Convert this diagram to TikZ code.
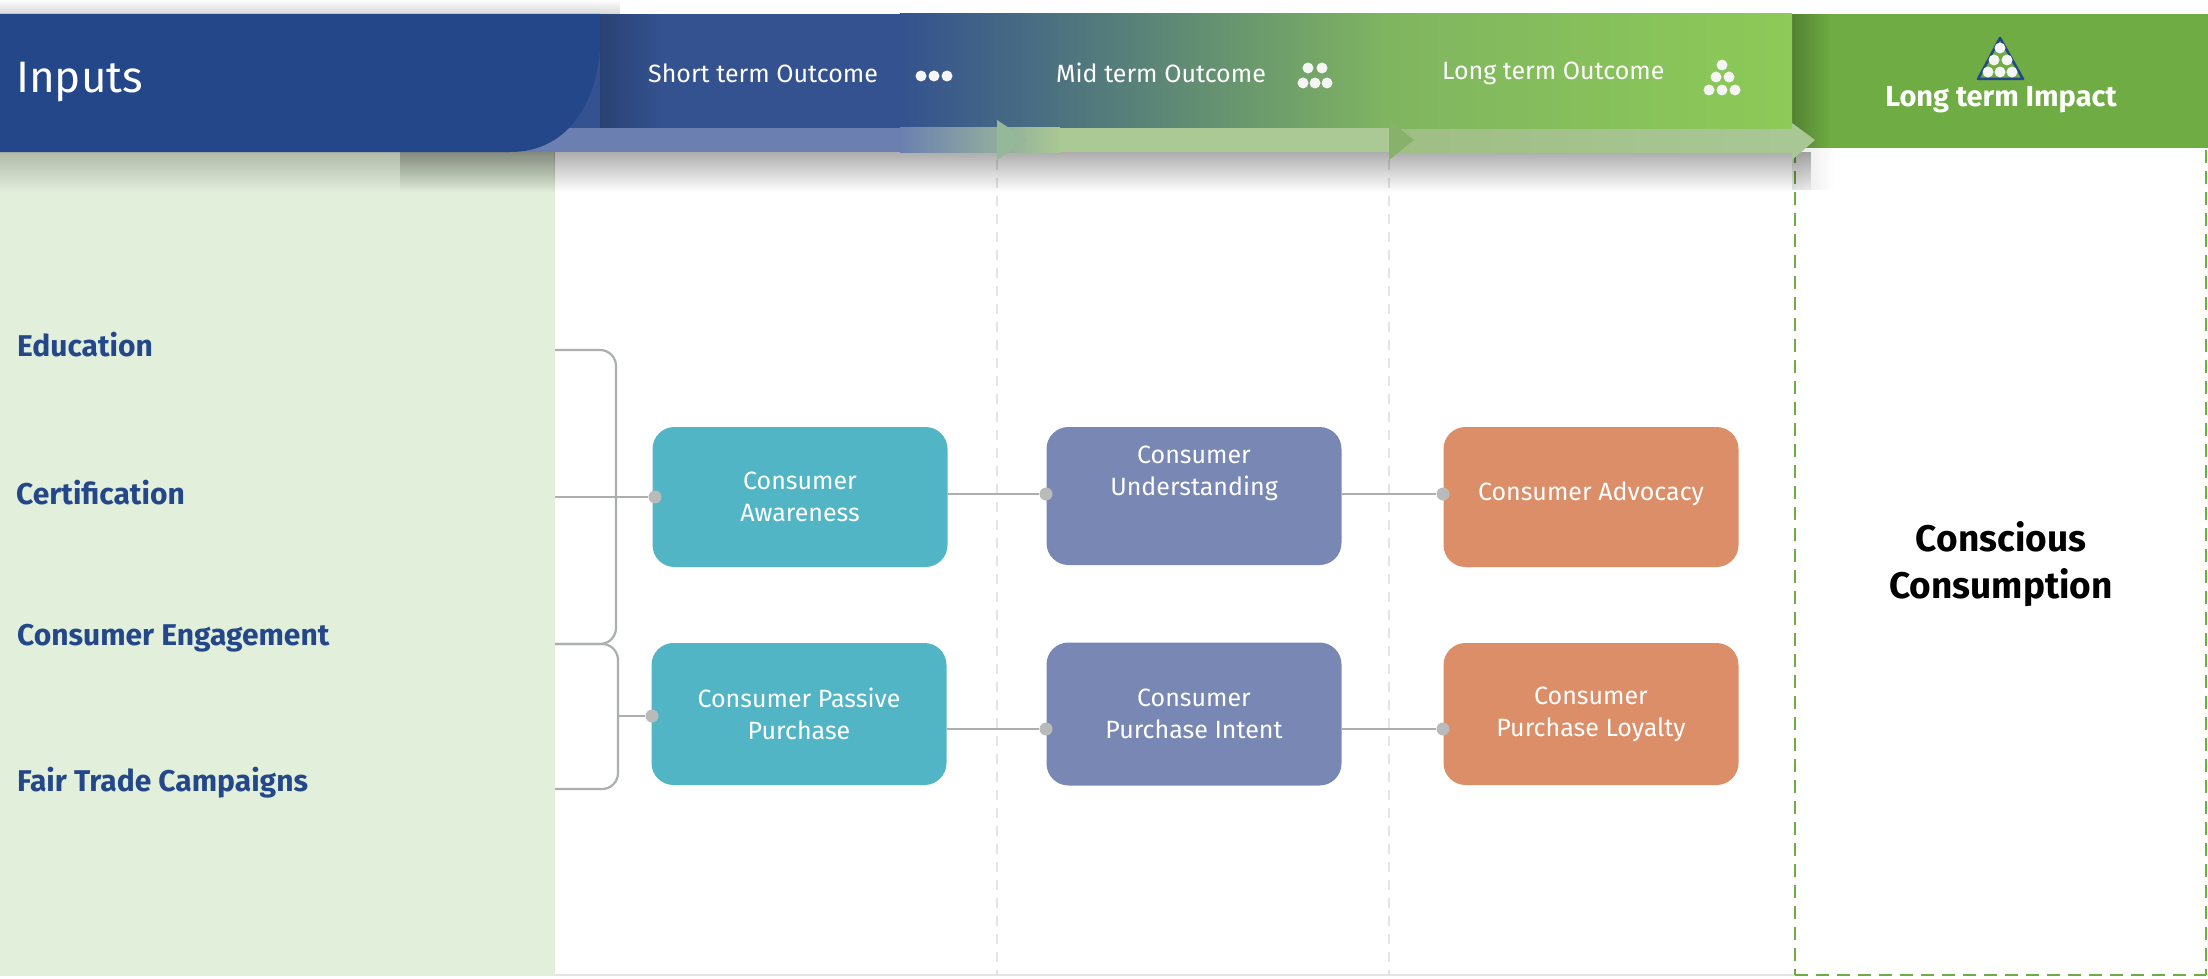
\documentclass[tikz,border=0pt]{standalone}
\usepackage{fontspec}
\setmainfont{Fira Sans}
\usetikzlibrary{fadings}
\definecolor{navy}{HTML}{24478A}
\definecolor{tealbox}{HTML}{51B5C6}
\definecolor{purplebox}{HTML}{7887B3}
\definecolor{orangebox}{HTML}{DC8E68}
\definecolor{inputgreen}{HTML}{E2EFDA}
\definecolor{impactgreen}{HTML}{6FAC43}
\definecolor{linkgray}{HTML}{ABAFAE}
\definecolor{dashgray}{HTML}{E4E4E4}
\def\outbox{\node[text=white,rounded corners=22pt,minimum width=295pt,minimum height=140pt,align=center,inner sep=0pt,font=\fontsize{25}{32}\selectfont]}
\def\graydot{\node[circle,fill=linkgray!85,inner sep=0pt,minimum size=13pt]}
\def\whitedot{\node[circle,fill=white!92!gray,inner sep=0pt,minimum size=11pt]}
\def\inputlabel{\node[anchor=west,inner sep=0pt,text=navy,font=\fontsize{30}{36}\selectfont\bfseries]}
\def\headlabel{\node[anchor=west,inner sep=0pt,text=white,font=\fontsize{25}{30}\selectfont]}
\tikzset{link/.style={draw=linkgray,line width=2.2pt},
  graydash/.style={draw=dashgray,line width=2pt,dash pattern=on 10pt off 8pt},
  greendash/.style={draw=impactgreen,line width=2pt,dash pattern=on 13pt off 8pt}}
\begin{document}
\begin{tikzpicture}[x=1pt,y=-1pt]
\useasboundingbox[fill=white] (0,0) rectangle (2208,979);
\fill[inputgreen] (0,152) rectangle (555,976);
\draw[dashgray,line width=2pt] (555,975) -- (1795,975);
\coordinate (shortend) at (997,160);
\coordinate (midend) at (1389,160);
\coordinate (shortfoot) at (997,975);
\coordinate (midfoot) at (1389,975);
\draw[graydash] (shortend) -- (shortfoot);
\draw[graydash] (midend) -- (midfoot);
\coordinate (impactl) at (1795,150);
\coordinate (impactr) at (2206,150);
\coordinate (impactlb) at (1795,975);
\coordinate (impactrb) at (2206,975);
\draw[greendash] (impactl) -- (impactlb);
\draw[greendash] (impactr) -- (impactrb);
\draw[greendash] (impactlb) -- (impactrb);
% shadows
\fill[black,opacity=.32,path fading=south] (555,152) rectangle (1815,192);
\fill[black,opacity=.22,path fading=south] (0,152) rectangle (555,192);
\fill[black,opacity=.25,path fading=south] (400,152) rectangle (555,192);
\fill[black,opacity=.16,path fading=north] (0,0) rectangle (620,14);
% header band
\fill[impactgreen] (1792,14) rectangle (2208,148);
\fill[black,opacity=.25,path fading=east] (1792,14) rectangle (1830,148);
\fill[black,opacity=.1,path fading=east] (1792,148) rectangle (1835,190);
\fill[color={rgb,255:red,52;green,82;blue,143}] (500,14) rectangle (901,128);
\shade[left color={rgb,255:red,52;green,82;blue,143},right color={rgb,255:red,128;green,181;blue,96}] (900,14) rectangle (1390,128);
\shade[left color={rgb,255:red,128;green,181;blue,96},right color={rgb,255:red,141;green,202;blue,87}] (1389,14) rectangle (1792,130);
\fill[color={rgb,255:red,107;green,128;blue,176}] (500,128) rectangle (901,152);
\shade[left color={rgb,255:red,107;green,128;blue,176},right color={rgb,255:red,169;green,200;blue,147}] (900,128) rectangle (1060,152);
\fill[color={rgb,255:red,171;green,201;blue,149}] (1059,128) rectangle (1389,152);
\shade[left color={rgb,255:red,159;green,190;blue,132},right color={rgb,255:red,169;green,199;blue,149}] (1389,130) rectangle (1792,152);
\fill[color={rgb,255:red,150;green,184;blue,154}] (997,120) -- (1027,140) -- (997,160) -- cycle;
\fill[color={rgb,255:red,136;green,178;blue,108}] (1389,120) -- (1414,140) -- (1389,160) -- cycle;
\fill[color={rgb,255:red,169;green,199;blue,149}] (1792,123) -- (1815,140) -- (1792,160) -- cycle;
\fill[black,opacity=.18,path fading=east] (600,14) rectangle (660,128);
\fill[navy] (0,14) -- (600,14) -- (600,50) .. controls (596,100) and (570,152) .. (510,152) -- (0,152) -- cycle;
% header text
\node[anchor=west,inner sep=0pt,text=white,font=\fontsize{44}{50}\selectfont] (inputs) at (16,82) {Inputs};
\headlabel (shortterm) at (648,73) {Short term Outcome};
\headlabel (midterm) at (1056,73) {Mid term Outcome};
\headlabel (longterm) at (1442,73) {Long term Outcome};
\foreach \px in {921,934,947} {\whitedot at (\px,76) {};}
\foreach \px/\py in {1308/68,1322/68,1303/83,1315/83,1327/83} {\whitedot at (\px,\py) {};}
\foreach \px/\py in {1722/65,1716/77,1729/77,1709/90,1722/90,1735/90} {\whitedot at (\px,\py) {};}
\draw[navy,line width=2.5pt,line join=round] (2000,38) -- (2023,79) -- (1978,79) -- cycle;
\foreach \px/\py in {2000/48,1994/60,2007/60,1988/72,2000/72,2012/72} {\whitedot at (\px,\py) {};}
\node[inner sep=0pt,text=white,font=\fontsize{29}{34}\selectfont\bfseries] (impact) at (2001,100) {Long term Impact};
% inputs
\inputlabel (education) at (17,345) {Education};
\inputlabel (certification) at (16,493) {Certification};
\inputlabel (engagement) at (17,638) {Consumer Engagement};
\inputlabel (fairtrade) at (17,783) {Fair Trade Campaigns};
% boxes
\outbox[fill=tealbox] (awareness) at (800,497) {Consumer\\Awareness};
\outbox[fill=tealbox,minimum height=142pt] (passive) at (799,714) {Consumer Passive\\Purchase};
\outbox[fill=purplebox,minimum height=138pt,text depth=50pt] (understanding) at (1194,496) {Consumer\\Understanding};
\outbox[fill=purplebox,minimum height=143pt] (intent) at (1194,714) {Consumer\\Purchase Intent};
\outbox[fill=orangebox,text depth=12pt] (advocacy) at (1591,497) {Consumer Advocacy};
\outbox[fill=orangebox,minimum height=142pt] (loyalty) at (1591,714) {Consumer\\Purchase Loyalty};
\node[inner sep=0pt,align=center,text=black,font=\fontsize{37}{47}\selectfont\bfseries] (conscious) at (2001,564) {Conscious\\Consumption};
% connectors
\coordinate (educ) at (555,350);
\coordinate (engage) at (555,644);
\coordinate (fair) at (555,789);
\coordinate (certif) at (555,497);
\coordinate (forkup) at (616,497);
\coordinate (forklow) at (618,716);
\graydot (dota) at (655,497) {};
\graydot (dotb) at (652,716) {};
\graydot (dotc) at (1046,494) {};
\graydot (dotd) at (1046,729) {};
\graydot (dote) at (1443,494) {};
\graydot (dotf) at (1443,729) {};
\draw[link,rounded corners=16pt] (educ) -| (forkup) |- (engage);
\draw[link,rounded corners=16pt] (engage) -| (forklow) |- (fair);
\draw[link] (certif) -- (dota);
\draw[link] (forklow) -- (dotb);
\draw[link] (awareness.east |- dotc) -- (dotc);
\draw[link] (passive.east |- dotd) -- (dotd);
\draw[link] (understanding.east |- dote) -- (dote);
\draw[link] (intent.east |- dotf) -- (dotf);
\end{tikzpicture}
\end{document}
